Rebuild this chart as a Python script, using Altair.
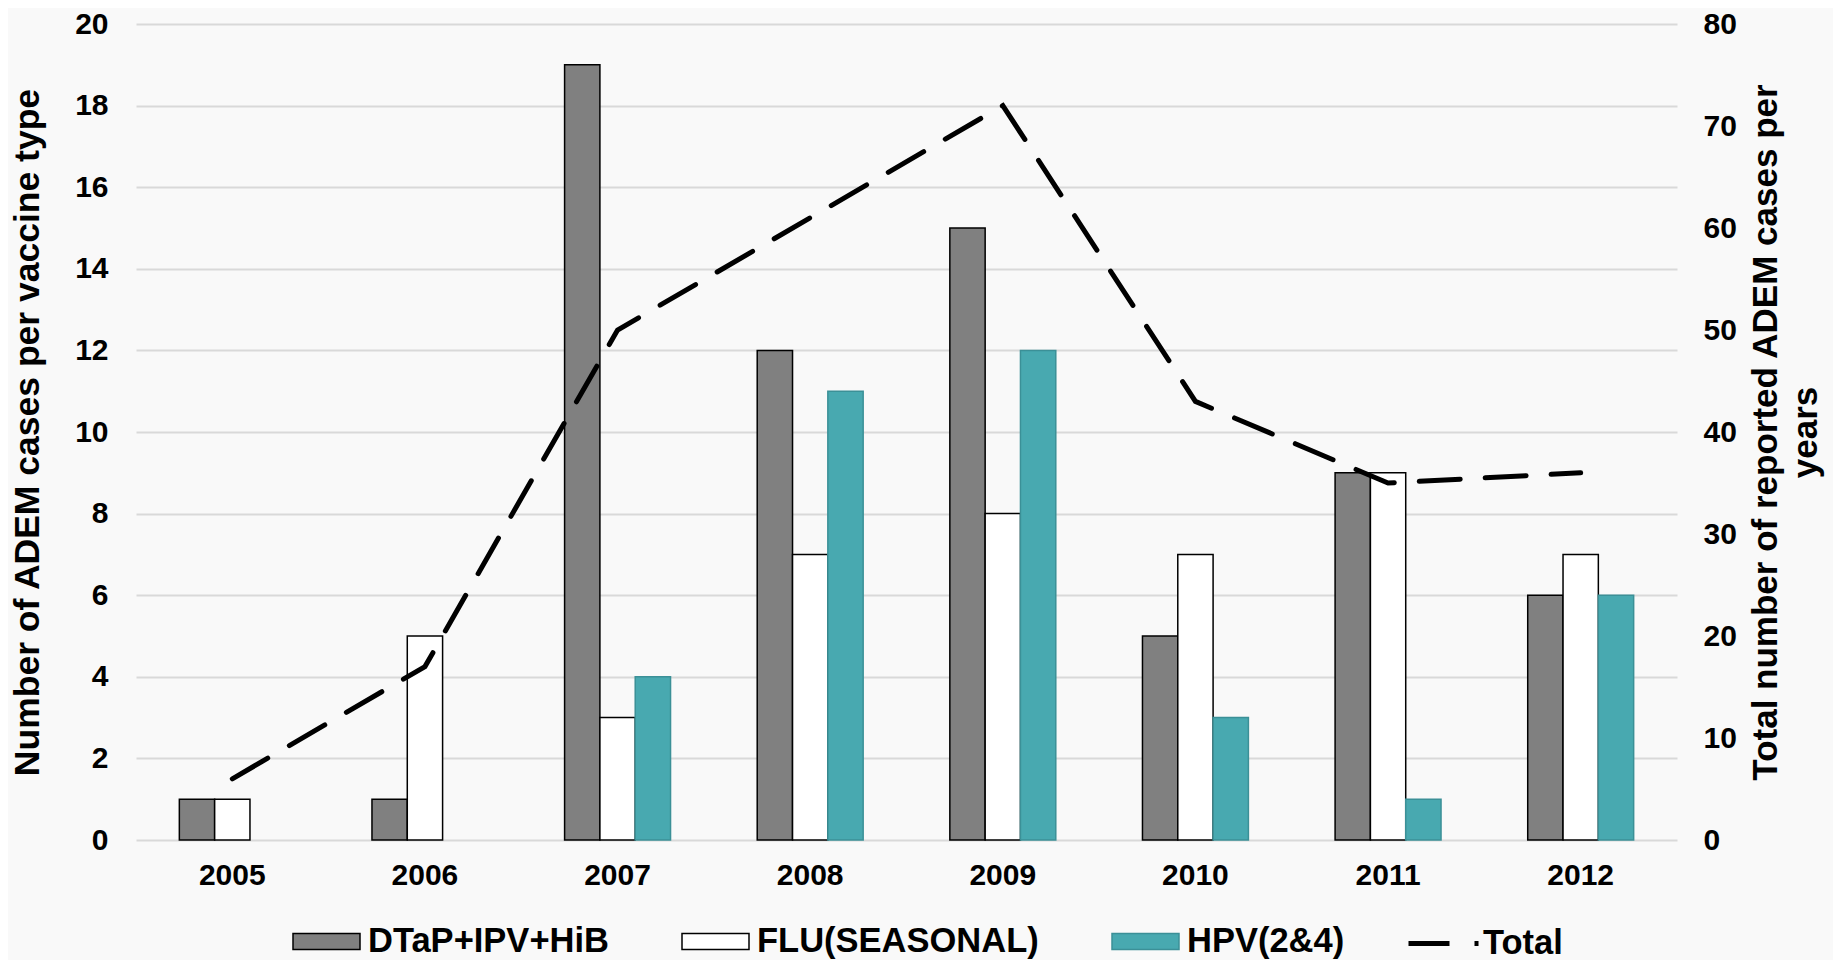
import altair as alt
import pandas as pd

years = ["2005", "2006", "2007", "2008", "2009", "2010", "2011", "2012"]
vaccines = ["DTaP+IPV+HiB", "FLU(SEASONAL)", "HPV(2&4)"]
dtap = [1, 1, 19, 12, 15, 5, 9, 6]
flu = [1, 5, 3, 7, 8, 7, 9, 7]
hpv = [0, 0, 4, 11, 12, 3, 1, 6]
total = [6, 17, 50, 61, 72, 43, 35, 36]

fill_colors = ["#808080", "#ffffff", "#48a9b0"]
stroke_colors = ["#000000", "#000000", "#3b9097"]
left_ticks = [0, 2, 4, 6, 8, 10, 12, 14, 16, 18, 20]
right_ticks = [0, 10, 20, 30, 40, 50, 60, 70, 80]

rows = []
for series_name, vals in zip(vaccines, [dtap, flu, hpv]):
    for y, v in zip(years, vals):
        if v > 0:
            rows.append({"year": y, "vaccine": series_name, "cases": v})
bars_df = pd.DataFrame(rows)
line_df = pd.DataFrame({"year": years, "total": total, "series": ["Total"] * len(years)})

FONT = "Liberation Sans"

x_enc = alt.X(
    "year:N",
    sort=years,
    scale=alt.Scale(paddingInner=0.45, paddingOuter=0.225),
    axis=alt.Axis(title=None, labelAngle=0, labelPadding=20, grid=False),
)

bar_legend = alt.Legend(
    title=None,
    orient="none",
    legendX=156,
    legendY=883,
    direction="horizontal",
    columns=3,
    columnPadding=70,
    symbolType="M-1,-0.239H1V0.239H-1Z",
    symbolSize=4489,
    symbolStrokeWidth=1.5,
    labelOffset=7,
    labelFont=FONT,
    labelFontSize=34.5,
    labelFontWeight="bold",
    labelColor="#000000",
    labelLimit=400,
)

bars = alt.Chart(bars_df).mark_bar(strokeWidth=1.5).encode(
    x=x_enc,
    xOffset=alt.XOffset("vaccine:N", sort=vaccines,
                        scale=alt.Scale(domain=vaccines, paddingInner=0, paddingOuter=0)),
    y=alt.Y(
        "cases:Q",
        scale=alt.Scale(domain=[0, 20], nice=False),
        axis=alt.Axis(
            title="Number of ADEM cases per vaccine type",
            values=left_ticks,
            grid=True,
            gridColor="#d9d9d9",
            gridWidth=2,
            labelPadding=28,
            titlePadding=29,
            titleFontSize=35.5,
        ),
    ),
    fill=alt.Fill("vaccine:N", sort=vaccines,
                  scale=alt.Scale(domain=vaccines, range=fill_colors), legend=bar_legend),
    stroke=alt.Stroke("vaccine:N", sort=vaccines,
                      scale=alt.Scale(domain=vaccines, range=stroke_colors), legend=bar_legend),
)

line = alt.Chart(line_df).mark_line(color="#000000", strokeWidth=5, strokeCap="round").encode(
    x=x_enc,
    y=alt.Y(
        "total:Q",
        scale=alt.Scale(domain=[0, 80], nice=False),
        axis=alt.Axis(
            orient="right",
            title=["Total number of reported ADEM cases per", "years"],
            values=right_ticks,
            grid=False,
            labelPadding=26,
            titlePadding=7,
            titleAngle=270,
            titleLineHeight=40,
        ),
    ),
    strokeDash=alt.StrokeDash(
        "series:N",
        scale=alt.Scale(domain=["Total"], range=[[41, 25]]),
        legend=alt.Legend(
            title=None,
            orient="none",
            legendX=1270,
            legendY=882,
            symbolType="stroke",
            symbolSize=4900,
            symbolStrokeWidth=5,
            symbolStrokeColor="#000000",
            labelOffset=2,
            labelFont=FONT,
            labelFontSize=34.5,
            labelFontWeight="bold",
            labelColor="#000000",
        ),
    ),
)

chart = (
    alt.layer(bars, line)
    .resolve_scale(y="independent")
    .properties(
        width=1541,
        height=816,
        autosize=alt.AutoSizeParams(type="none"),
        padding={"left": 128, "top": 16, "right": 156, "bottom": 120},
        background="#f9f9f9",
    )
    .configure_view(stroke=None)
    .configure_axis(
        labelFont=FONT,
        labelFontSize=30,
        labelFontWeight="bold",
        labelColor="#000000",
        titleFont=FONT,
        titleFontSize=35,
        titleFontWeight="bold",
        titleColor="#000000",
        domain=False,
        ticks=False,
    )
)

chart.save("out.html", embed_options={"renderer": "svg", "actions": False})
